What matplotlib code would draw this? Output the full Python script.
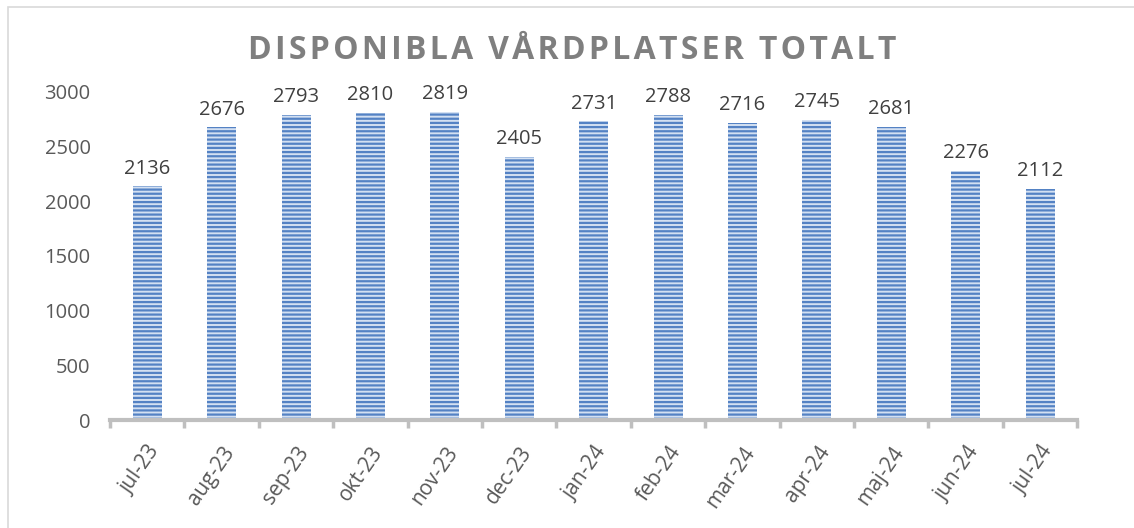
import numpy as np
import matplotlib.pyplot as plt
from matplotlib.patches import Rectangle

months = ['jul-23', 'aug-23', 'sep-23', 'okt-23', 'nov-23', 'dec-23',
          'jan-24', 'feb-24', 'mar-24', 'apr-24', 'maj-24', 'jun-24', 'jul-24']
platser = [2136, 2676, 2793, 2810, 2819, 2405, 2731, 2788, 2716, 2745, 2681, 2276, 2112]
yticks = [0, 500, 1000, 1500, 2000, 2500, 3000]

plt.rcParams['font.family'] = ['Open Sans', 'DejaVu Sans']
plt.rcParams['hatch.linewidth'] = 1.6

fig = plt.figure(figsize=(11.34, 5.28), dpi=100)
ax = fig.add_axes([0.097, 0.2045, 0.853, 0.6215])

# frame round the chart (only top/left visible in the screenshot)
fig.patches.append(Rectangle((8 / 1134, -0.1), 1.2, 1 - 7 / 528 + 0.1, transform=fig.transFigure,
                             fill=False, edgecolor='#d9d9d9', linewidth=1.2))

x = np.arange(len(months))
bars = ax.bar(x, platser, width=0.39, color='#d3e0f2', hatch='----',
              edgecolor='#5482c4', linewidth=0)

for xi, v in zip(x, platser):
    ax.text(xi, v + 70, str(v), ha='center', va='bottom', fontsize=14.5, color='#404040')

ax.set_xlim(-0.5, len(months) - 0.5)
ax.set_ylim(0, 3000)
ax.set_yticks(yticks)
ax.set_yticklabels([str(t) for t in yticks], fontsize=14.5, color='#595959')
ax.tick_params(axis='y', length=0, pad=14)

ax.set_xticks(x)
ax.set_xticklabels(months, rotation=55, ha='right', rotation_mode='anchor',
                   fontsize=15, color='#595959')
ax.set_xticks(np.arange(len(months) + 1) - 0.5, minor=True)
ax.tick_params(axis='x', which='major', length=0, pad=16)
ax.tick_params(axis='x', which='minor', length=6, width=2.5, color='#bfbfbf')

for s in ['top', 'right', 'left']:
    ax.spines[s].set_visible(False)
ax.spines['bottom'].set_color('#bfbfbf')
ax.spines['bottom'].set_linewidth(3)

title = '\u200a'.join('DISPONIBLA VÅRDPLATSER TOTALT')
fig.text(0.505, 0.905, title, ha='center', va='center', fontsize=23,
         fontweight='bold', color='#7f7f7f')

fig.savefig('out.png', dpi=100)
